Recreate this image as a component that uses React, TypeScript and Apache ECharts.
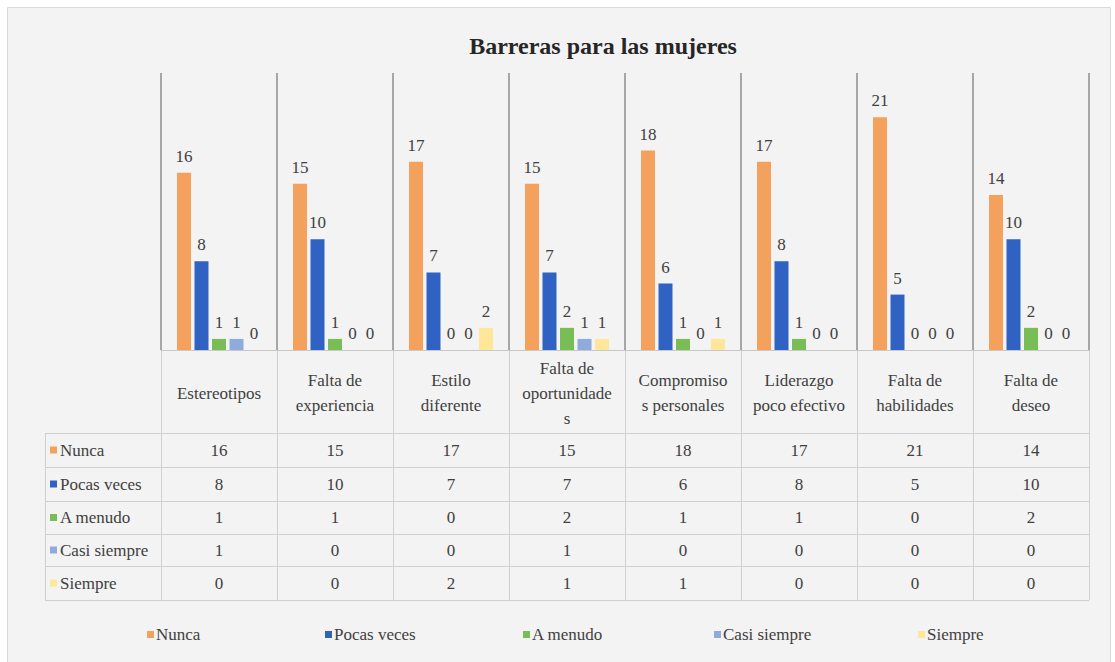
import React, { useEffect, useRef } from "react";
import * as echarts from "echarts";

const categories = [
  "Estereotipos",
  "Falta de experiencia",
  "Estilo diferente",
  "Falta de oportunidades",
  "Compromisos personales",
  "Liderazgo poco efectivo",
  "Falta de habilidades",
  "Falta de deseo",
];
const categoryLabels = [
  "Estereotipos",
  "Falta de\nexperiencia",
  "Estilo\ndiferente",
  "Falta de\noportunidade\ns",
  "Compromiso\ns personales",
  "Liderazgo\npoco efectivo",
  "Falta de\nhabilidades",
  "Falta de\ndeseo",
];
const seriesNames = ["Nunca", "Pocas veces", "A menudo", "Casi siempre", "Siempre"];
const nunca = [16, 15, 17, 15, 18, 17, 21, 14];
const pocasVeces = [8, 10, 7, 7, 6, 8, 5, 10];
const aMenudo = [1, 1, 0, 2, 1, 1, 0, 2];
const casiSiempre = [1, 0, 0, 1, 0, 0, 0, 0];
const siempre = [0, 0, 2, 1, 1, 0, 0, 0];
const seriesValues = [nunca, pocasVeces, aMenudo, casiSiempre, siempre];

const colors = ["#F4A15D", "#2F62C2", "#78BD55", "#8FAADC", "#FFE699"];
const FONT = "Liberation Serif";
const FS = 17;
const TXT = "#404040";

const W = 1115;
const H = 662;
const gridLeft = 161;
const gridRightX = 1089;
const gridTop = 73;
const baseY = 350;
const catW = (gridRightX - gridLeft) / categories.length;
const tableLeft = 45;
const rowLines = [433, 467, 501, 534, 566, 600];
const legendLefts = [147, 325, 523, 714, 918];

export default function App() {
  const ref = useRef<HTMLDivElement>(null);
  useEffect(() => {
    if (!ref.current) return;
    const chart = echarts.init(ref.current, null, { renderer: "svg" });

    const graphics: any[] = [];
    graphics.push({
      type: "rect",
      z: -10,
      shape: { x: 7.5, y: 7.5, width: 1103, height: 670 },
      style: { fill: "#F3F3F3", stroke: "#D9D9D9", lineWidth: 1 },
      silent: true,
    });
    const lineStyle = { stroke: "#D0D0D0", lineWidth: 1 };
    rowLines.forEach((y) => {
      graphics.push({
        type: "line",
        shape: { x1: tableLeft, y1: y + 0.5, x2: gridRightX, y2: y + 0.5 },
        style: lineStyle,
        silent: true,
      });
    });
    graphics.push({
      type: "line",
      shape: { x1: tableLeft + 0.5, y1: rowLines[0], x2: tableLeft + 0.5, y2: rowLines[rowLines.length - 1] },
      style: lineStyle,
      silent: true,
    });
    for (let k = 0; k <= categories.length; k++) {
      const x = Math.round(gridLeft + catW * k) + 0.5;
      graphics.push({
        type: "line",
        shape: { x1: x, y1: baseY, x2: x, y2: rowLines[rowLines.length - 1] },
        style: lineStyle,
        silent: true,
      });
    }
    seriesNames.forEach((name, r) => {
      const cy = (rowLines[r] + rowLines[r + 1]) / 2;
      graphics.push({
        type: "rect",
        shape: { x: 50, y: cy - 3.5, width: 7, height: 7 },
        style: { fill: colors[r] },
        silent: true,
      });
      graphics.push({
        type: "text",
        x: 60,
        y: cy,
        style: {
          text: name,
          fill: TXT,
          fontFamily: FONT,
          fontSize: FS,
          verticalAlign: "middle",
          align: "left",
        },
        silent: true,
      });
      seriesValues[r].forEach((v, i) => {
        graphics.push({
          type: "text",
          x: gridLeft + catW * (i + 0.5),
          y: cy,
          style: {
            text: String(v),
            fill: TXT,
            fontFamily: FONT,
            fontSize: FS,
            verticalAlign: "middle",
            align: "center",
          },
          silent: true,
        });
      });
    });

    const option: any = {
      animation: false,
      backgroundColor: "#FFFFFF",
      textStyle: { fontFamily: FONT },
      title: {
        text: "Barreras para las mujeres",
        left: 598,
        top: 29,
        textAlign: "center",
        textStyle: { fontFamily: FONT, fontSize: 24, fontWeight: "bold", color: "#262626" },
      },
      legend: seriesNames.map((name, i) => ({
        data: [name],
        left: legendLefts[i],
        top: 626,
        itemWidth: 7,
        itemHeight: 7,
        icon: "rect",
        padding: 0,
        textStyle: { fontFamily: FONT, fontSize: FS, color: TXT, padding: [0, 0, 0, -3] },
      })),
      grid: {
        left: gridLeft,
        right: W - gridRightX,
        top: gridTop,
        bottom: H - baseY,
        containLabel: false,
      },
      xAxis: {
        type: "category",
        data: categories,
        axisLine: { show: true, lineStyle: { color: "#C8C8C8" } },
        axisTick: { show: false },
        splitLine: { show: true, interval: 0, lineStyle: { color: "#8C8C8C", width: 1.5 } },
        axisLabel: {
          interval: 0,
          margin: 43,
          verticalAlign: "middle",
          lineHeight: 25,
          fontFamily: FONT,
          fontSize: FS,
          color: TXT,
          formatter: (_v: string, idx: number) => categoryLabels[idx],
        },
      },
      yAxis: {
        type: "value",
        min: 0,
        max: 25,
        show: false,
        splitLine: { show: false },
      },
      series: seriesNames.map((name, i) => ({
        name,
        type: "bar",
        data: seriesValues[i],
        barWidth: 14,
        barGap: "25%",
        itemStyle: { color: colors[i] },
        label: {
          show: true,
          position: "top",
          distance: 8,
          fontFamily: FONT,
          fontSize: FS,
          color: TXT,
        },
      })),
      graphic: graphics,
    };
    chart.setOption(option);
    return () => chart.dispose();
  }, []);
  return (
    <div
      ref={ref}
      style={{ position: "fixed", left: 0, top: 0, width: W, height: H }}
    />
  );
}
